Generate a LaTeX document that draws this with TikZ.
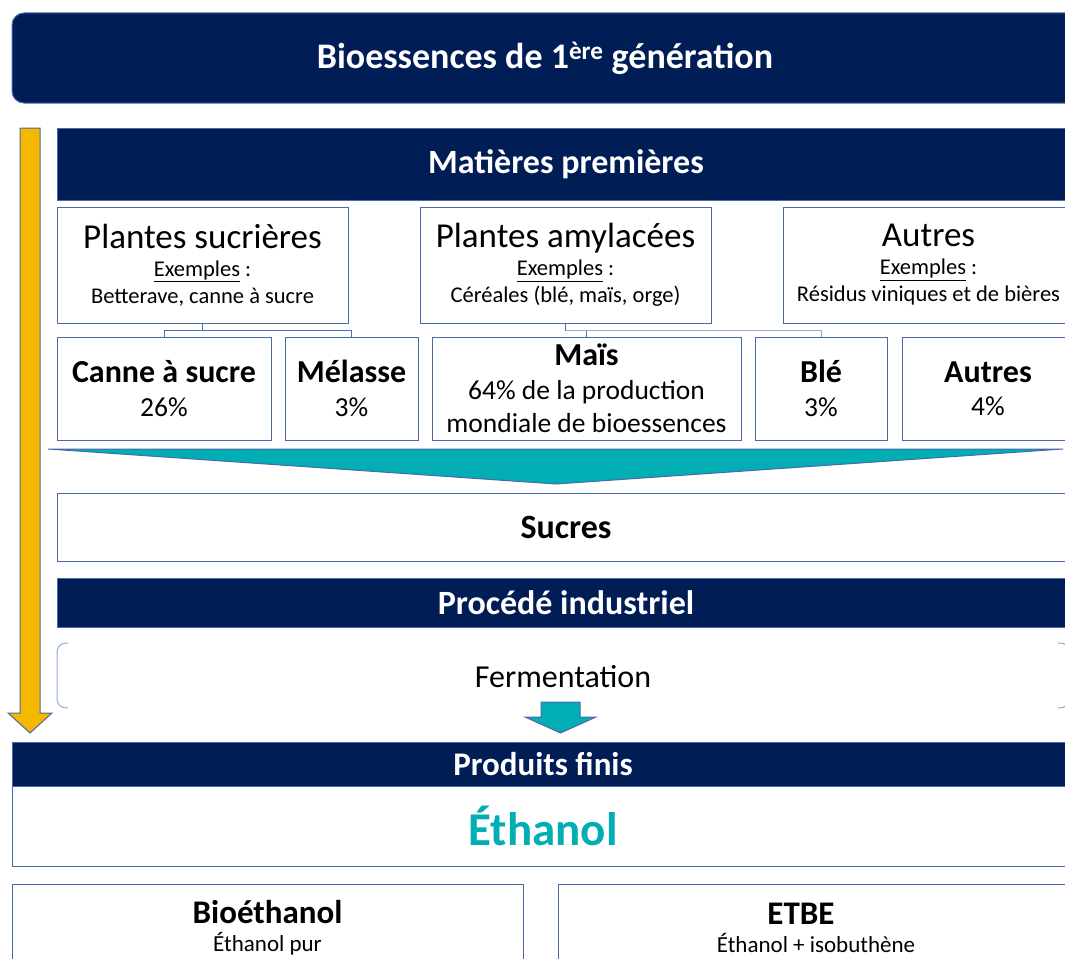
\documentclass[tikz,border=0pt]{standalone}
\usepackage{fontspec}
\setmainfont{Carlito}
\usetikzlibrary{positioning,calc}
\definecolor{navy}{HTML}{001D55}
\definecolor{tealc}{HTML}{00AEB4}
\definecolor{gold}{HTML}{F5B800}
\definecolor{edge}{HTML}{4A68AA}
\definecolor{lightedge}{HTML}{8FAADC}
\definecolor{treeline}{HTML}{4472C4}

\begin{document}
\begin{tikzpicture}[x=1pt,y=-1pt,
	bar/.style={fill=navy,draw=edge,text=white,anchor=north west,inner sep=0pt,outer sep=0pt,font=\fontsize{34}{40}\selectfont\bfseries},
	box/.style={fill=white,draw=edge,anchor=north west,inner sep=0pt,outer sep=0pt,align=center},
	catbox/.style={box,minimum width=291,minimum height=116,font=\fontsize{22.5}{27}\selectfont},
	prodbox/.style={box,minimum height=103,font=\fontsize{27.5}{33.5}\selectfont},
	line width=1pt]
	\useasboundingbox (0,0) rectangle (1065,958);
	\clip (0,0) rectangle (1065,958);

	\node[bar,rounded corners=12pt,minimum width=1066,minimum height=90,font=\fontsize{36}{42}\selectfont\bfseries] (titre) at (12,13) {Bioessences de 1\textsuperscript{ère} génération};
	\node[bar,minimum width=1018,minimum height=72] (matieres) at (57,128) {Matières premières};

	\node[catbox] (sucr) at (57,207) {{\fontsize{35}{38}\selectfont Plantes sucrières}\\[1pt] \underline{Exemples} :\\ Betterave, canne à sucre};
	\node[catbox,right=72pt of sucr] (amyl) {{\fontsize{35}{38}\selectfont Plantes amylacées}\\[1pt] \underline{Exemples} :\\ Céréales (blé, maïs, orge)};
	\node[catbox,right=72pt of amyl] (autcat) {{\fontsize{35}{38}\selectfont Autres}\\[1pt] \underline{Exemples} :\\ Résidus viniques et de bières};

	\node[prodbox,minimum width=214] (canne) at (57,337) {\textbf{\fontsize{32}{34}\selectfont Canne à sucre}\\ 26\%};
	\node[prodbox,minimum width=133,right=14pt of canne] (melasse) {\textbf{\fontsize{32}{34}\selectfont Mélasse}\\ 3\%};
	\node[prodbox,minimum width=309,right=14pt of melasse] (mais) {\textbf{\fontsize{32}{34}\selectfont Maïs}\\ 64\% de la production\\ mondiale de bioessences};
	\node[prodbox,minimum width=132,right=14pt of mais] (ble) {\textbf{\fontsize{32}{34}\selectfont Blé}\\ 3\%};
	\node[prodbox,minimum width=172,right=15pt of ble] (autres) {\textbf{\fontsize{32}{34}\selectfont Autres}\\ 4\%};

	\node[box,minimum width=1018,minimum height=68,font=\fontsize{34}{40}\selectfont\bfseries] (sucres) at (57,493) {Sucres};
	\node[bar,minimum width=1018,minimum height=49] (procede) at (57,578) {Procédé industriel};
	\node[font=\fontsize{32}{38}\selectfont] (ferm) at (563,677) {Fermentation};

	\node[bar,minimum width=1062,minimum height=44,font=\fontsize{33}{38}\selectfont\bfseries] (produits) at (12,742) {Produits finis};
	\node[box,minimum width=1062,minimum height=80,font=\fontsize{47}{52}\selectfont\bfseries,text=tealc] (ethanol) at (12,786) {Éthanol};
	\node[box,minimum width=511,minimum height=88,font=\fontsize{23}{28}\selectfont] (bioeth) at (12,884) {\textbf{\fontsize{33}{35}\selectfont Bioéthanol}\\ Éthanol pur};
	\node[box,minimum width=516,minimum height=88,font=\fontsize{23}{28}\selectfont] (etbe) at (558,884) {\textbf{\fontsize{33}{35}\selectfont ETBE}\hspace*{30pt}\\ Éthanol + isobuthène};

	\draw[treeline] (sucr.south) -- ++(0,7) -| (canne.north);
	\draw[treeline] (sucr.south) -- ++(0,7) -| (melasse.north);
	\draw[treeline] (amyl.south) -- ++(0,7) -| (mais.north);
	\draw[treeline!60] (amyl.south) ++(0,7) -| (ble.north);

	\draw[edge,fill=tealc] (48,449) -- (1063,449) -- (556,484) -- cycle;
	\draw[edge,fill=gold] (20,128) -- (40,128) -- (40,713) -- (52,713) -- (30,733) -- (8,713) -- (20,713) -- cycle;
	\draw[edge,fill=tealc] (541,702) -- (580,702) -- (580,717) -- (596,717) -- (560.5,733) -- (525,717) -- (541,717) -- cycle;

	\draw[lightedge] (68,643) .. controls (60,643) and (57,646) .. (57,654) -- (57,697) .. controls (57,705) and (60,708) .. (68,708);
	\draw[lightedge] (1058,643) .. controls (1066,643) and (1069,646) .. (1069,654) -- (1069,697) .. controls (1069,705) and (1066,708) .. (1058,708);
\end{tikzpicture}
\end{document}
